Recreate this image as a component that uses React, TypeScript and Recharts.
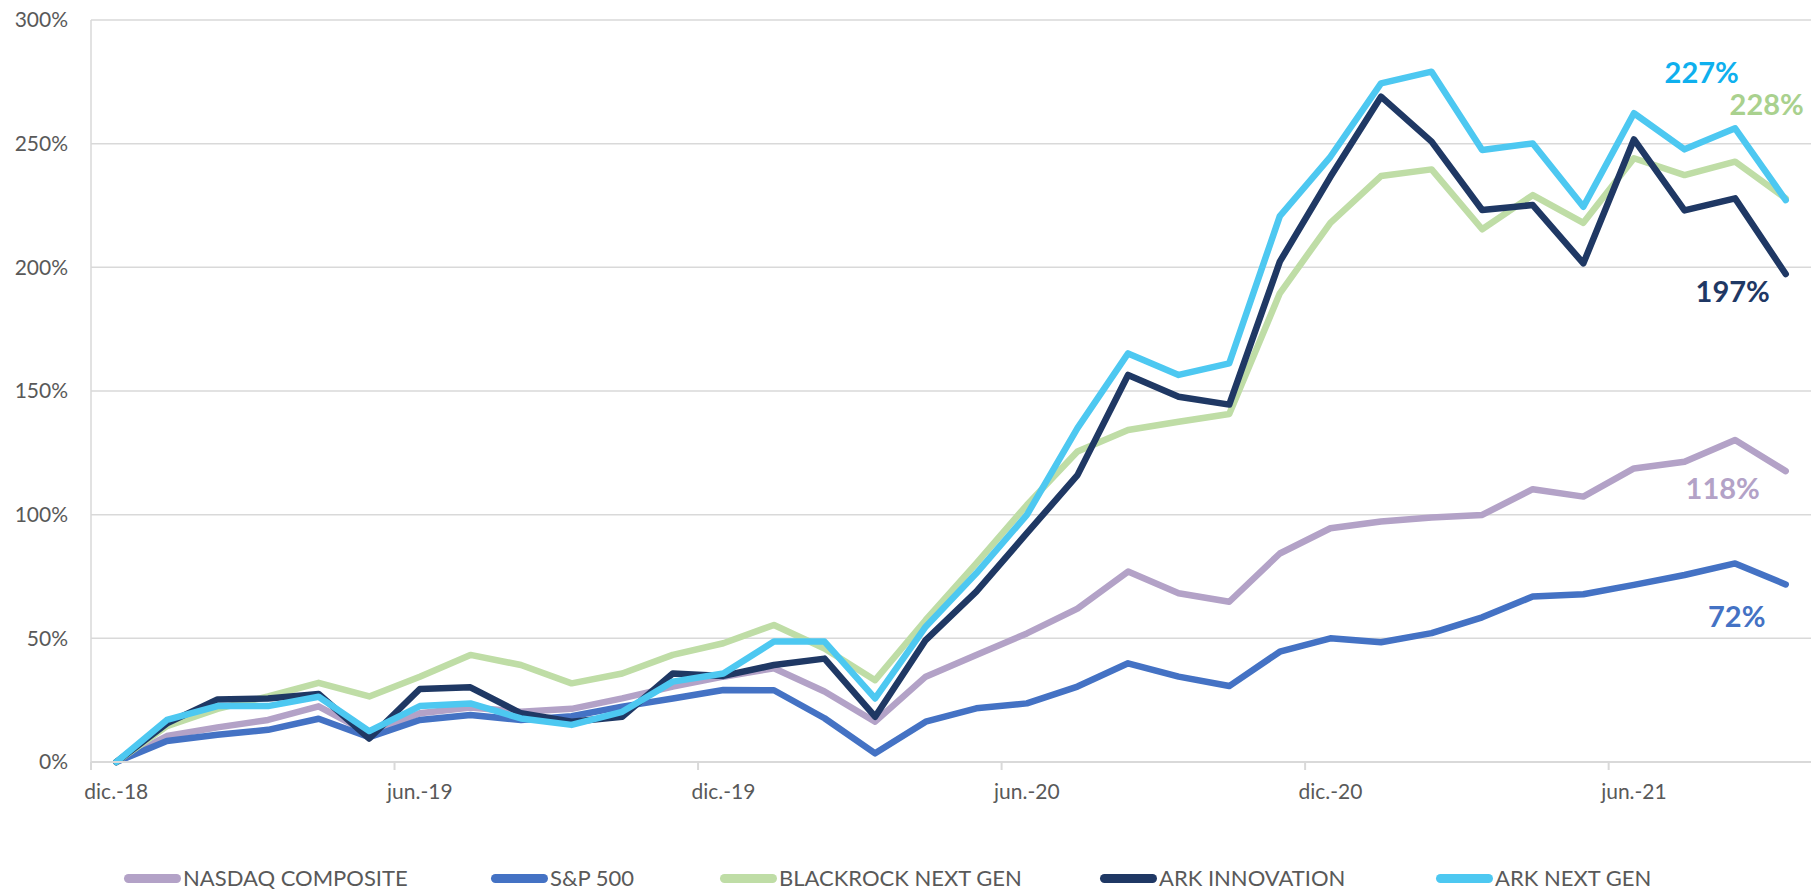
import { LineChart, Line, XAxis, YAxis, CartesianGrid, Legend, LabelList } from 'recharts';

const MONTHS = [
  'dic.-18', 'ene.-19', 'feb.-19', 'mar.-19', 'abr.-19', 'may.-19', 'jun.-19', 'jul.-19', 'ago.-19',
  'sep.-19', 'oct.-19', 'nov.-19', 'dic.-19', 'ene.-20', 'feb.-20', 'mar.-20', 'abr.-20', 'may.-20',
  'jun.-20', 'jul.-20', 'ago.-20', 'sep.-20', 'oct.-20', 'nov.-20', 'dic.-20', 'ene.-21', 'feb.-21',
  'mar.-21', 'abr.-21', 'may.-21', 'jun.-21', 'jul.-21', 'ago.-21', 'sep.-21',
];
const TICK_IDX = [0, 6, 12, 18, 24, 30];
const Y_TICKS = [0, 50, 100, 150, 200, 250, 300];

// cumulative return, % since dic.-18
const NASDAQ = [
  0, 10.5, 14, 17, 22.5, 11.5, 19.7, 22, 20.3, 21.5, 25.7, 30.5, 34.5, 37.9, 28.5, 16.3, 34.5,
  43.3, 52, 62, 77, 68.2, 64.8, 84.3, 94.5, 97.2, 98.9, 99.9, 110.3, 107.3, 118.7, 121.4, 130.2, 117.6,
];
const SP500 = [
  0, 8.5, 11, 13, 17.5, 10, 17, 19, 17, 18.5, 22.4, 25.7, 29.1, 29, 17.7, 3.5, 16.3,
  21.7, 23.7, 30.5, 39.9, 34.5, 30.7, 44.6, 50, 48.4, 52.1, 58.5, 66.9, 67.8, 71.6, 75.6, 80.3, 71.8,
];
const BLACKROCK = [
  0, 14.5, 21.5, 26.5, 32, 26.5, 34.5, 43.3, 39.2, 31.8, 35.8, 43.3, 48, 55.4, 45.9, 33.1, 57.4,
  80.3, 103.9, 125.5, 134.2, 137.6, 140.7, 189.5, 218, 236.9, 239.6, 215.4, 229.2, 218, 244.1, 237.3, 242.7, 227.9,
];
const ARK_INNOVATION = [
  0, 15.6, 25.3, 25.7, 27.5, 9.5, 29.5, 30.2, 19.7, 16.3, 18.3, 35.8, 34.8, 39.2, 41.8, 18.3, 49.3,
  68.9, 92.5, 116, 156.5, 147.7, 144.5, 202.3, 236.6, 269, 250.8, 223.2, 225.2, 201.6, 251.7, 223, 227.9, 197.3,
];
const ARK_NEXT_GEN = [
  0, 17, 22.6, 22.6, 26.4, 12.5, 22.6, 23.7, 17.6, 15, 20.3, 32.5, 35.8, 48.7, 48.7, 25.7, 54.7,
  76.3, 99.9, 135, 165.2, 156.5, 161.2, 220.7, 244.7, 274.4, 279.1, 247.4, 250.1, 224.5, 262.3, 247.7, 256.2, 227.2,
];

const SERIES = [
  { key: 'nasdaq', name: 'NASDAQ COMPOSITE', color: '#B3A2C7', labelColor: '#B3A2C7', values: NASDAQ, dx: -63, dy: 28, legendW: 367 },
  { key: 'sp500', name: 'S&P 500', color: '#4472C4', labelColor: '#4472C4', values: SP500, dx: -49, dy: 43, legendW: 229 },
  { key: 'blackrock', name: 'BLACKROCK NEXT GEN', color: '#BFDDA6', labelColor: '#A9D18E', values: BLACKROCK, dx: -19, dy: -83, legendW: 380 },
  { key: 'arkk', name: 'ARK INNOVATION', color: '#1F3864', labelColor: '#1F3864', values: ARK_INNOVATION, dx: -53, dy: 28, legendW: 336 },
  { key: 'arkw', name: 'ARK NEXT GEN', color: '#4DC8F1', labelColor: '#0FB0EE', values: ARK_NEXT_GEN, dx: -84, dy: -117, legendW: 240 },
];

const rows = MONTHS.map((month, i) => {
  const row: Record<string, number | string> = { idx: i, month };
  SERIES.forEach((s) => {
    row[s.key] = s.values[i];
  });
  return row;
});

const W = 1816;
const H = 888;
const Y_AXIS_W = 91;
const MARGIN = { top: 20, right: 5, left: 0, bottom: 0 };
const PLOT_W = W - MARGIN.left - MARGIN.right - Y_AXIS_W;
const HALF_BAND = PLOT_W / MONTHS.length / 2;
const GREY = '#595959';
const LINE_GREY = '#D9D9D9';

function MonthTick({ x, y, payload }: any) {
  return (
    <g>
      <line x1={x - HALF_BAND} x2={x - HALF_BAND} y1={y} y2={y + 8} stroke={LINE_GREY} strokeWidth={2} />
      <text x={x} y={y + 22} dy="0.71em" textAnchor="middle" fill={GREY} fontSize={21}>
        {MONTHS[payload.value]}
      </text>
    </g>
  );
}

function endLabel(s: (typeof SERIES)[number]) {
  return (props: any) => {
    const { x, y, index, value } = props;
    if (index !== MONTHS.length - 1) return null;
    return (
      <text
        x={x + s.dx}
        y={y + s.dy}
        textAnchor="middle"
        fill={s.labelColor}
        fontSize={29}
        fontWeight={700}
      >
        {`${Math.round(value)}%`}
      </text>
    );
  };
}

function LegendRow() {
  return (
    <div style={{ display: 'flex', alignItems: 'center', height: 26, paddingLeft: 124, paddingTop: 3 }}>
      {SERIES.map((s) => (
        <div key={s.key} style={{ display: 'flex', alignItems: 'center', width: s.legendW, flex: 'none' }}>
          <span style={{ width: 57, height: 9, borderRadius: 5, background: s.color, display: 'inline-block' }} />
          <span style={{ marginLeft: 2, color: GREY, fontSize: 22, lineHeight: '26px', whiteSpace: 'nowrap' }}>
            {s.name}
          </span>
        </div>
      ))}
    </div>
  );
}

export default function App() {
  return (
    <div
      style={{
        position: 'absolute',
        left: 0,
        top: 0,
        width: W,
        height: H,
        background: '#fff',
        fontFamily: 'Lato, "Open Sans", sans-serif',
      }}
    >
      <LineChart width={W} height={H} data={rows} margin={MARGIN}>
        <CartesianGrid vertical={false} stroke={LINE_GREY} strokeWidth={1.5} />
        <XAxis
          dataKey="idx"
          type="number"
          domain={[-0.5, MONTHS.length - 0.5]}
          ticks={TICK_IDX}
          interval={0}
          height={100}
          axisLine={{ stroke: LINE_GREY, strokeWidth: 2 }}
          tickLine={false}
          tickSize={0}
          tickMargin={0}
          tick={<MonthTick />}
        />
        <YAxis
          domain={[0, 300]}
          ticks={Y_TICKS}
          width={Y_AXIS_W}
          axisLine={{ stroke: LINE_GREY, strokeWidth: 1.5 }}
          tickLine={false}
          tickSize={0}
          tickMargin={23}
          tick={{ fill: GREY, fontSize: 21 }}
          tickFormatter={(v: number) => `${v}%`}
        />
        <Legend verticalAlign="bottom" height={26} wrapperStyle={{ left: 0, width: W }} content={() => <LegendRow />} />
        {SERIES.map((s) => (
          <Line
            key={s.key}
            type="linear"
            dataKey={s.key}
            name={s.name}
            stroke={s.color}
            strokeWidth={6.5}
            strokeLinejoin="round"
            strokeLinecap="round"
            dot={false}
            activeDot={false}
            isAnimationActive={false}
          >
            <LabelList dataKey={s.key} content={endLabel(s)} />
          </Line>
        ))}
      </LineChart>
    </div>
  );
}
